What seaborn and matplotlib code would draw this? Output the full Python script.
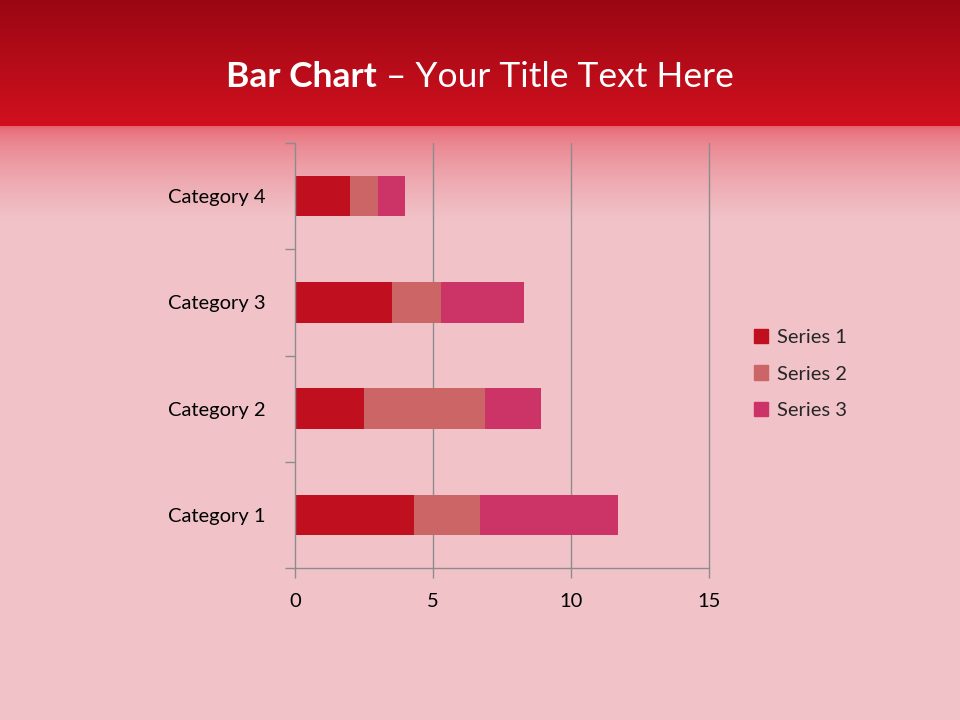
import numpy as np
import pandas as pd
import matplotlib
matplotlib.use('Agg')
import matplotlib.pyplot as plt
from matplotlib.colors import to_rgb
import seaborn as sns

# данные
categories = ['Category 4', 'Category 3', 'Category 2', 'Category 1']
series_names = ['Series 1', 'Series 2', 'Series 3']
series1 = [2.0, 3.5, 2.5, 4.3]
series2 = [1.0, 1.8, 4.4, 2.4]
series3 = [1.0, 3.0, 2.0, 5.0]
colors = ['#C00F1E', '#CC6666', '#CC3366']
x_ticks = [0, 5, 10, 15]

sns.set_style('white')
plt.rcParams['font.family'] = ['Lato', 'DejaVu Sans']

W, H = 960, 720
fig = plt.figure(figsize=(9.6, 7.2), dpi=100)

# фон: красная шапка с градиентом в розовый
top_a, top_b = np.array(to_rgb('#9A0712')), np.array(to_rgb('#D2101F'))
fade_a, pink = np.array(to_rgb('#E6606D')), np.array(to_rgb('#F1C3C9'))
grad = np.zeros((H, 1, 3))
for r in range(H):
    if r < 126:
        t = r / 126
        c = top_a * (1 - t) + top_b * t
    elif r < 220:
        t = ((r - 126) / 94) ** 0.55
        c = fade_a * (1 - t) + pink * t
    else:
        c = pink
    grad[r, 0] = c
bg = fig.add_axes([0, 0, 1, 1])
bg.imshow(grad, aspect='auto', extent=[0, 1, 0, 1])
bg.axis('off')

# заголовок
t1 = fig.text(0, 0, 'Bar Chart', color='white', fontsize=25.5, fontweight='bold', va='center')
t2 = fig.text(0, 0, ' \u2013 Your Title Text Here', color='white', fontsize=25.5, va='center')
fig.canvas.draw()
r = fig.canvas.get_renderer()
w1 = t1.get_window_extent(r).width
w2 = t2.get_window_extent(r).width
x0 = 480 - (w1 + w2) / 2
t1.set_position((x0 / W, 1 - 77 / H))
t2.set_position(((x0 + w1) / W, 1 - 77 / H))

# диаграмма
ax = fig.add_axes([295 / W, 1 - 568 / H, 414 / W, 425 / H])
ax.patch.set_alpha(0)
df = pd.DataFrame({'category': categories, 's1': series1, 's2': series2, 's3': series3})
df['c1'] = df['s1']
df['c2'] = df['s1'] + df['s2']
df['c3'] = df['c2'] + df['s3']

for col, color in zip(['c3', 'c2', 'c1'], colors[::-1]):
    sns.barplot(data=df, x=col, y='category', order=categories, color=color,
                width=0.38, orient='h', ax=ax, saturation=1, linewidth=0)

ax.set_xlim(0, 15)
ax.set_ylim(3.5, -0.5)
ax.set_xticks(x_ticks)
ax.set_xticklabels([str(v) for v in x_ticks])
ax.set_yticks(range(len(categories)))
ax.set_yticklabels(categories)
ax.set_yticks([-0.5, 0.5, 1.5, 2.5, 3.5], minor=True)
ax.set_xlabel('')
ax.set_ylabel('')
ax.grid(False)
for v in x_ticks[1:]:
    ax.axvline(v, color='#8C8C8C', lw=1, zorder=0, clip_on=False)
for s in ['top', 'right']:
    ax.spines[s].set_visible(False)
for s in ['left', 'bottom']:
    ax.spines[s].set_color('#8C8C8C')
    ax.spines[s].set_linewidth(1)
ax.tick_params(axis='y', which='major', length=0, pad=21, labelsize=14.5, labelcolor='black')
ax.tick_params(axis='y', which='minor', length=7, color='#8C8C8C', width=1, left=True)
ax.tick_params(axis='x', length=7, color='#8C8C8C', width=1, bottom=True,
               labelsize=14.5, labelcolor='black', pad=11)

handles = [plt.Rectangle((0, 0), 1, 1, color=c) for c in colors]
fig.legend(handles, series_names, loc='center left', bbox_to_anchor=(736 / W, 1 - 374 / H),
           frameon=False, fontsize=14.5, handlelength=0.7, handleheight=0.7,
           handletextpad=0.45, labelspacing=0.95)

fig.savefig('out.png', dpi=100)
